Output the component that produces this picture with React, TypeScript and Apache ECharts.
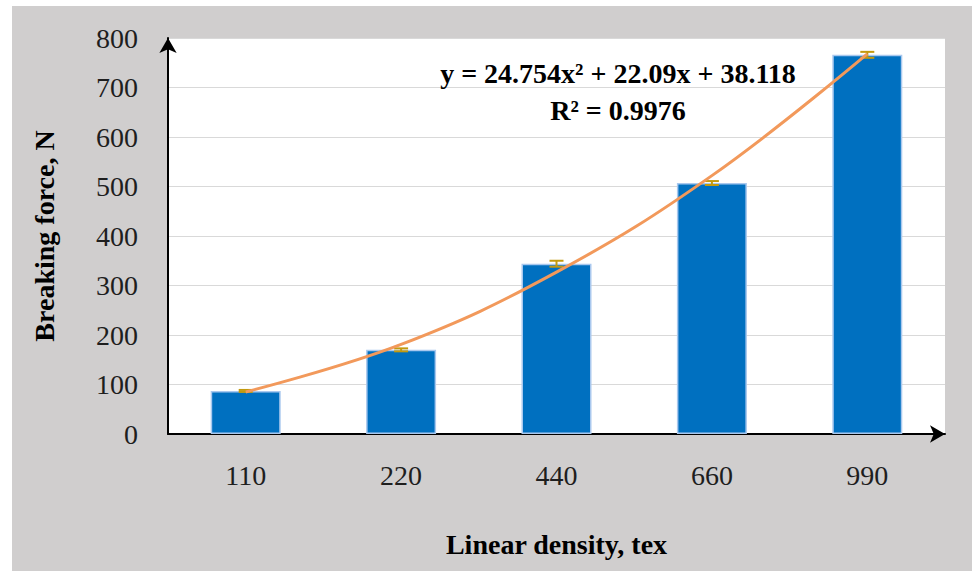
import { useEffect, useRef } from "react";
import * as echarts from "echarts";

// Linear density of the samples (tex) and their mean breaking force (N)
const categories = ["110", "220", "440", "660", "990"];
const breakingForce = [87, 170, 344, 507, 766];
const forceError = [2, 3, 6, 4, 6];
// Polynomial (order 2) trendline values at each category position
const trendValues = [85, 181, 327, 522, 768];
const equationText = "y = 24.754x\u00b2 + 22.09x + 38.118";
const r2Text = "R\u00b2 = 0.9976";

const SERIF = '"Liberation Serif", "Times New Roman", serif';
const TEXT_COLOR = "#1e1e1e";

export default function App() {
  const ref = useRef<HTMLDivElement>(null);

  useEffect(() => {
    document.body.style.margin = "0";
    if (!ref.current) return;
    const chart = echarts.init(ref.current, undefined, { renderer: "svg" });

    const errorData = categories.map((_, i) => [i, breakingForce[i], forceError[i]]);

    chart.setOption({
      animation: false,
      grid: {
        left: 168,
        right: 27,
        top: 38,
        bottom: 137,
        show: true,
        backgroundColor: "#ffffff",
        borderWidth: 0,
      },
      xAxis: {
        type: "category",
        data: categories,
        axisLine: {
          show: true,
          lineStyle: { color: "#000", width: 2 },
          symbol: ["none", "arrow"],
          symbolSize: [13, 15],
        },
        axisTick: { show: false },
        axisLabel: {
          margin: 27,
          fontSize: 28,
          fontFamily: SERIF,
          color: TEXT_COLOR,
        },
        name: "Linear density, tex",
        nameLocation: "middle",
        nameGap: 96,
        nameTextStyle: {
          fontSize: 28,
          fontWeight: "bold",
          fontFamily: SERIF,
          color: "#000",
        },
      },
      yAxis: {
        type: "value",
        min: 0,
        max: 800,
        interval: 100,
        axisLine: {
          show: true,
          lineStyle: { color: "#000", width: 2 },
          symbol: ["none", "arrow"],
          symbolSize: [13, 15],
        },
        axisTick: { show: false },
        splitLine: { lineStyle: { color: "#d9d9d9", width: 1 } },
        axisLabel: {
          margin: 30,
          fontSize: 28,
          fontFamily: SERIF,
          color: TEXT_COLOR,
        },
        name: "Breaking force, N",
        nameLocation: "middle",
        nameGap: 110,
        nameTextStyle: {
          fontSize: 28,
          fontWeight: "bold",
          fontFamily: SERIF,
          color: "#000",
        },
      },
      series: [
        {
          type: "bar",
          data: breakingForce,
          barWidth: 70,
          itemStyle: {
            color: "#0070c0",
            borderColor: "#a9c8ee",
            borderWidth: 1.5,
          },
          z: 2,
        },
        {
          type: "custom",
          data: errorData,
          encode: { x: 0, y: 1 },
          z: 3,
          renderItem: (_params: any, api: any) => {
            const x = api.value(0);
            const v = api.value(1);
            const e = api.value(2);
            const top = api.coord([x, v + e]);
            const bot = api.coord([x, v - e]);
            const half = 7;
            const style = { stroke: "#c39a0e", lineWidth: 2 };
            return {
              type: "group",
              children: [
                { type: "line", shape: { x1: top[0], y1: top[1], x2: bot[0], y2: bot[1] }, style },
                { type: "line", shape: { x1: top[0] - half, y1: top[1], x2: top[0] + half, y2: top[1] }, style },
                { type: "line", shape: { x1: bot[0] - half, y1: bot[1], x2: bot[0] + half, y2: bot[1] }, style },
              ],
            };
          },
        },
        {
          type: "line",
          data: trendValues,
          smooth: 0.4,
          symbol: "none",
          lineStyle: { color: "#f2995b", width: 3 },
          z: 4,
        },
      ],
      graphic: [
        {
          type: "text",
          x: 618,
          y: 73,
          style: {
            text: equationText,
            align: "center",
            verticalAlign: "middle",
            fontSize: 28,
            fontWeight: "bold",
            fontFamily: SERIF,
            fill: "#000",
          },
          z: 10,
        },
        {
          type: "text",
          x: 618,
          y: 110,
          style: {
            text: r2Text,
            align: "center",
            verticalAlign: "middle",
            fontSize: 28,
            fontWeight: "bold",
            fontFamily: SERIF,
            fill: "#000",
          },
          z: 10,
        },
      ],
    });

    return () => chart.dispose();
  }, []);

  return (
    <div style={{ position: "relative", width: 972, height: 571, background: "#ffffff" }}>
      <div
        style={{
          position: "absolute",
          left: 12,
          top: 6,
          width: 960,
          height: 565,
          background: "#d0cece",
        }}
      />
      <div ref={ref} style={{ position: "absolute", left: 0, top: 0, width: 972, height: 571 }} />
    </div>
  );
}
